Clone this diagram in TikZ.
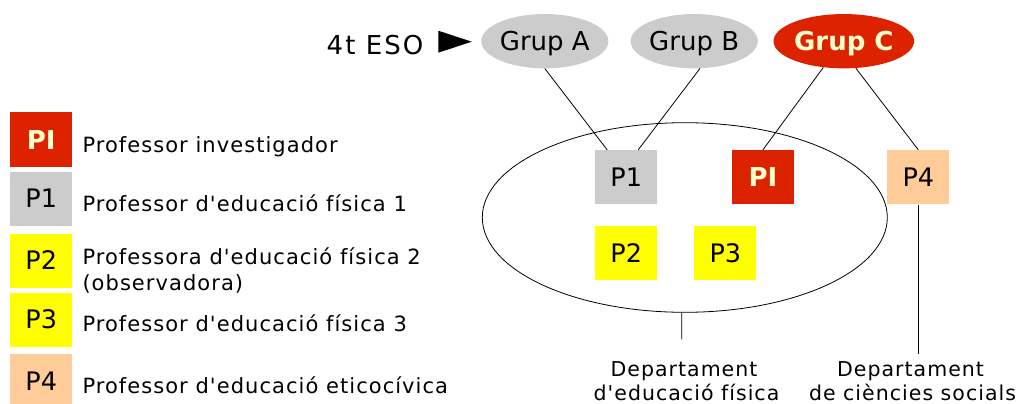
\documentclass[tikz,border=0pt]{standalone}
\usepackage{fontspec}
\setmainfont{DejaVu Sans}
\newfontfamily\lsp{DejaVu Sans}[LetterSpace=5]
\usetikzlibrary{shapes.geometric}
\definecolor{pired}{RGB}{221,34,0}
\definecolor{picream}{RGB}{255,255,204}
\definecolor{pgray}{RGB}{204,204,204}
\definecolor{pyellow}{RGB}{255,255,0}
\definecolor{ppeach}{RGB}{255,204,153}
\begin{document}
\begin{tikzpicture}[x=1pt,y=-1pt,
  box/.style={rectangle, minimum width=62.3pt, minimum height=54.3pt, inner sep=0pt,
    text height=18.5pt, text depth=0pt, font=\fontsize{25.5}{28}\selectfont},
  graybox/.style={box, fill=pgray},
  yellowbox/.style={box, fill=pyellow},
  peachbox/.style={box, fill=ppeach},
  pibox/.style={box, fill=pired, text=picream, text height=19pt,
    font=\fontsize{26}{28}\selectfont\bfseries},
  grp/.style={ellipse, minimum width=125pt, minimum height=54.3pt, inner sep=0pt,
    fill=pgray, text height=19pt, text depth=0pt, font=\fontsize{26}{30}\selectfont},
  grpc/.style={grp, fill=pired, text=picream, font=\fontsize{26}{30}\selectfont\bfseries},
  leg/.style={anchor=base west, inner sep=0pt, font=\lsp\fontsize{21}{25}\selectfont},
  dep/.style={anchor=base, inner sep=0pt, font=\lsp\fontsize{20.5}{25}\selectfont},
  conn/.style={draw=black, line width=0.8pt}
]
\useasboundingbox (0,0) rectangle (1020,404);

% top row
\node[anchor=base west, inner sep=0pt,
  font=\fontsize{26}{30}\selectfont\addfontfeature{LetterSpace=8}] (eso) at (326.5,55) {4t ESO};
\fill (438.3,30.7) -- (438.3,52.7) -- (471.7,41.7) -- cycle;
\node[grp] (ga) at (544.8,41.2) {Grup A};
\node[grp] (gb) at (694.2,41.2) {Grup B};
\node[grpc] (gc) at (843.8,41.2) {Grup C};

% department ellipse
\node[ellipse, draw=black, line width=0.8pt, minimum width=405pt, minimum height=189.6pt,
  inner sep=0pt] (dept) at (684.8,217.5) {};

% professor boxes
\node[graybox] (p1) at (626.2,177.2) {P1};
\node[pibox] (pi) at (762.9,177.2) {PI};
\node[peachbox] (p4) at (918.3,177.2) {P4};
\node[yellowbox] (p2) at (626.2,253) {P2};
\node[yellowbox] (p3) at (725.3,253) {P3};

% connectors
\draw[conn] (ga.south) -- ([xshift=-19pt]p1.north);
\draw[conn] (gb.282.6) -- ([xshift=12pt]p1.north);
\draw[conn] (gc.232) -- (pi.north);
\draw[conn] (gc.294.4) -- (p4.north);
\coordinate (depend) at (681.7,339.3);
\draw[conn] ([xshift=-3pt]dept.south) -- (depend);
\coordinate (p4end) at (918.3,354.3);
\draw[conn] (p4.south) -- (p4end);

% department labels
\node[dep] (d1a) at (684,376) {Departament};
\node[dep] (d1b) at (686.5,400) {d'educació física};
\node[dep] (d2a) at (910.5,376) {Departament};
\node[dep] (d2b) at (912.5,400) {de ciències socials};

% legend
\node[pibox] (lpi) at (41.2,139.5) {PI};
\node[graybox] (lp1) at (41.2,198.7) {P1};
\node[yellowbox] (lp2) at (41.2,260.7) {P2};
\node[yellowbox] (lp3) at (41.2,319.7) {P3};
\node[peachbox] (lp4) at (41.2,381) {P4};

\node[leg] (tpi) at (82.3,152.3) {Professor investigador};
\node[leg] (tp1) at (82.3,211.7) {Professor d'educació física 1};
\node[leg] (tp2) at (82.3,264.3) {Professora d'educació física 2};
\node[leg] (tp2b) at (82.3,290) {(observadora)};
\node[leg] (tp3) at (82.3,331.7) {Professor d'educació física 3};
\node[leg] (tp4) at (82.3,393.3) {Professor d'educació eticocívica};
\end{tikzpicture}
\end{document}
